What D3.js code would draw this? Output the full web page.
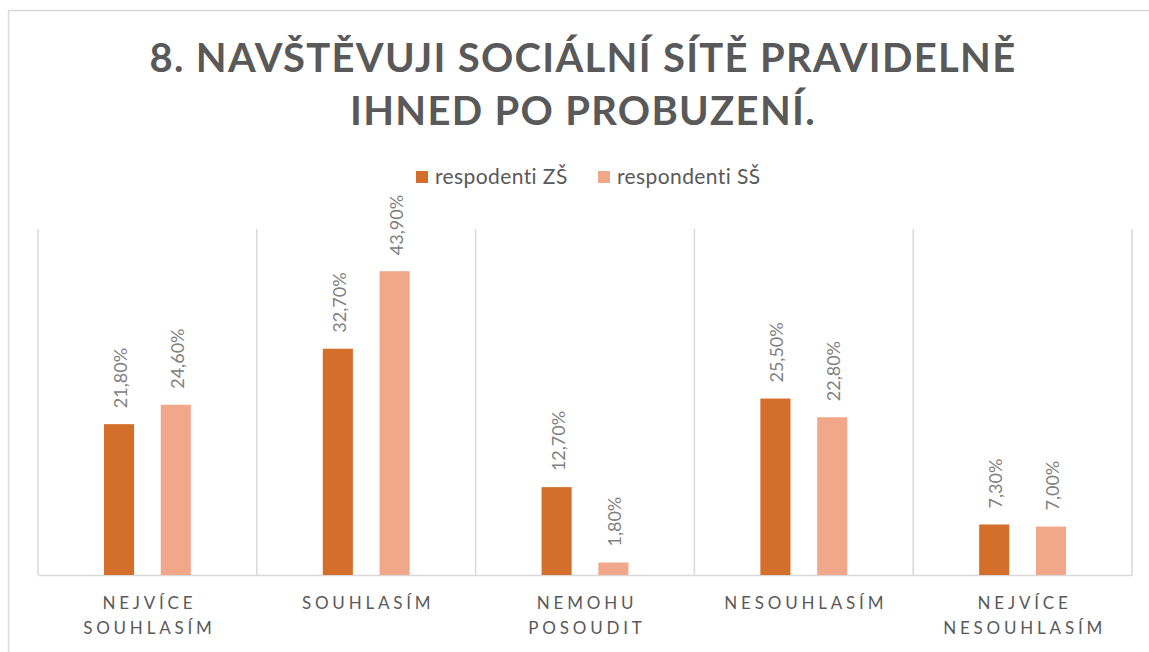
<!DOCTYPE html>
<html>
<head>
<meta charset="utf-8">
<script src="https://cdn.jsdelivr.net/npm/d3@7"></script>
<style>
  html, body { margin: 0; padding: 0; background: #fff; }
  svg { display: block; }
</style>
</head>
<body>
<script>
const titleLines = ["8. NAVŠTĚVUJI SOCIÁLNÍ SÍTĚ PRAVIDELNĚ", "IHNED PO PROBUZENÍ."];
const categories = ["NEJVÍCE SOUHLASÍM", "SOUHLASÍM", "NEMOHU POSOUDIT", "NESOUHLASÍM", "NEJVÍCE NESOUHLASÍM"];
const categoryLines = [["NEJVÍCE", "SOUHLASÍM"], ["SOUHLASÍM"], ["NEMOHU", "POSOUDIT"], ["NESOUHLASÍM"], ["NEJVÍCE", "NESOUHLASÍM"]];
const seriesNames = ["respodenti ZŠ", "respondenti SŠ"];
const valuesZS = [21.8, 32.7, 12.7, 25.5, 7.3];
const valuesSS = [24.6, 43.9, 1.8, 22.8, 7.0];
const labelsZS = ["21,80%", "32,70%", "12,70%", "25,50%", "7,30%"];
const labelsSS = ["24,60%", "43,90%", "1,80%", "22,80%", "7,00%"];
const colors = ["#D36F2B", "#F1A88A"];

const W = 1149, H = 652;
const svg = d3.select("body").append("svg").attr("width", W).attr("height", H);

// chart border
svg.append("rect").attr("x", 8.5).attr("y", 10.5).attr("width", W + 20).attr("height", H + 20)
  .attr("fill", "none").attr("stroke", "#d9d9d9").attr("stroke-width", 1.5);

const font = "Lato, 'Open Sans', sans-serif";

// title
titleLines.forEach((t, i) => {
  svg.append("text")
    .attr("x", 583).attr("y", 72 + i * 53)
    .attr("text-anchor", "middle")
    .attr("font-family", font).attr("font-weight", 700).attr("font-size", 40)
    .attr("letter-spacing", "1.3px")
    .attr("fill", "#595959")
    .text(t);
});

// legend
const legendX = [416, 598];
seriesNames.forEach((s, i) => {
  svg.append("rect").attr("x", legendX[i]).attr("y", 171).attr("width", 12).attr("height", 12).attr("fill", colors[i]);
  svg.append("text").attr("x", legendX[i] + 19).attr("y", 184)
    .attr("font-family", font).attr("font-size", 21).attr("letter-spacing", "0.4px")
    .attr("fill", "#595959").text(s);
});

// scales
const plot = { left: 38, right: 1132, top: 229, bottom: 575 };
const x0 = d3.scaleBand().domain(categories).range([plot.left, plot.right]).padding(0);
const groupW = x0.bandwidth() * 0.397;
const x1 = d3.scaleBand().domain(seriesNames).range([-groupW / 2, groupW / 2]).paddingInner(0.47);
const y = d3.scaleLinear().domain([0, 50]).range([plot.bottom, plot.top]);

// vertical gridlines at category boundaries
const bounds = categories.map(c => x0(c)).concat([x0(categories[categories.length - 1]) + x0.bandwidth()]);
svg.append("g").selectAll("line").data(bounds).join("line")
  .attr("x1", d => d).attr("x2", d => d)
  .attr("y1", plot.top).attr("y2", plot.bottom)
  .attr("stroke", "#d9d9d9").attr("stroke-width", 1.5);

// baseline axis
const xAxis = d3.axisBottom(x0).tickSize(0).tickFormat("");
const axisG = svg.append("g").attr("transform", `translate(0,${plot.bottom})`).call(xAxis);
axisG.select(".domain").attr("stroke", "#d9d9d9").attr("stroke-width", 1.5);

// bars
const series = [
  { name: seriesNames[0], values: valuesZS, labels: labelsZS, color: colors[0] },
  { name: seriesNames[1], values: valuesSS, labels: labelsSS, color: colors[1] }
];
series.forEach(s => {
  const data = categories.map((c, i) => ({ c, v: s.values[i], l: s.labels[i] }));
  svg.append("g").selectAll("rect").data(data).join("rect")
    .attr("x", d => x0(d.c) + x0.bandwidth() / 2 + x1(s.name))
    .attr("y", d => y(d.v))
    .attr("width", x1.bandwidth())
    .attr("height", d => y(0) - y(d.v))
    .attr("fill", s.color);
  svg.append("g").selectAll("text").data(data).join("text")
    .attr("transform", d => {
      const cx = x0(d.c) + x0.bandwidth() / 2 + x1(s.name) + x1.bandwidth() / 2 + 1;
      return `translate(${cx},${y(d.v) - 16}) rotate(-90)`;
    })
    .attr("dominant-baseline", "central")
    .attr("font-family", font).attr("font-size", 18).attr("fill", "#808080")
    .text(d => d.l);
});

// category labels
categories.forEach((c, i) => {
  const t = svg.append("text")
    .attr("text-anchor", "middle")
    .attr("font-family", font).attr("font-size", 17).attr("fill", "#595959")
    .attr("letter-spacing", "3.8px");
  categoryLines[i].forEach((ln, j) => {
    t.append("tspan").attr("x", x0(c) + x0.bandwidth() / 2 + 2).attr("y", 609 + j * 25).text(ln);
  });
});
</script>
</body>
</html>
